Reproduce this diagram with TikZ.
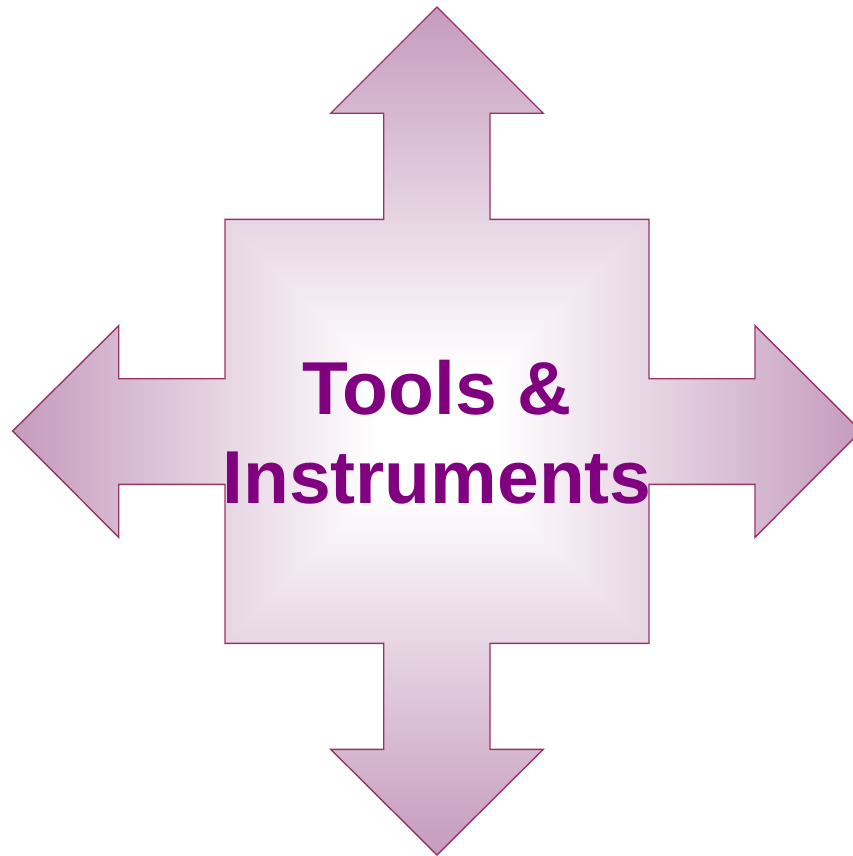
\documentclass[tikz,border=0pt]{standalone}
\usepackage{fontspec}
\setmainfont{Liberation Sans}
\definecolor{tipcol}{RGB}{197,155,189}
\definecolor{edgecol}{RGB}{153,51,102}
\definecolor{textcol}{RGB}{128,0,128}
\pgfdeclareverticalshading{armup}{100bp}{color(0bp)=(white); color(25bp)=(white); color(32bp)=(white); color(75bp)=(tipcol); color(100bp)=(tipcol)}
\pgfdeclareverticalshading{armdown}{100bp}{color(0bp)=(tipcol); color(25bp)=(tipcol); color(68bp)=(white); color(75bp)=(white); color(100bp)=(white)}
\pgfdeclarehorizontalshading{armleft}{100bp}{color(0bp)=(tipcol); color(25bp)=(tipcol); color(68bp)=(white); color(75bp)=(white); color(100bp)=(white)}
\pgfdeclarehorizontalshading{armright}{100bp}{color(0bp)=(white); color(25bp)=(white); color(32bp)=(white); color(75bp)=(tipcol); color(100bp)=(tipcol)}
\tikzset{
  labeltext/.style={text=textcol, align=center, inner sep=0pt,
    font=\fontsize{75}{89.5}\selectfont\bfseries},
  outline/.style={draw=edgecol, line width=1.4pt, line join=miter}
}
\def\quadpath{(437,7) -- (543.3,113.3) -- (490,113.3) -- (490,219.3) -- (649,219.3) -- (649,378.7) -- (755,378.7) -- (755,325.7) -- (861,431) -- (755,537.3) -- (755,484.3) -- (649,484.3) -- (649,643.3) -- (490,643.3) -- (490,749.3) -- (543.3,749.3) -- (437,855) -- (330.7,749.3) -- (383.7,749.3) -- (383.7,643.3) -- (225,643.3) -- (225,484.3) -- (118.7,484.3) -- (118.7,537.3) -- (12.7,431) -- (118.7,325.7) -- (118.7,378.7) -- (225,378.7) -- (225,219.3) -- (383.7,219.3) -- (383.7,113.3) -- (330.7,113.3) -- cycle}
\begin{document}
\begin{tikzpicture}[x=1pt,y=-1pt]
\useasboundingbox (0,0) rectangle (852,856);
\coordinate (c) at (437,431);
\begin{scope}
  \clip \quadpath;
  \shade[shading=armup] (c) -- (12,6.5) -- (862,6.5) -- cycle;
  \shade[shading=armdown] (c) -- (862,855.5) -- (12,855.5) -- cycle;
  \shade[shading=armleft] (c) -- (12.5,6) -- (12.5,856) -- cycle;
  \shade[shading=armright] (c) -- (861.5,6) -- (861.5,856) -- cycle;
\end{scope}
\draw[outline] \quadpath;
\node[labeltext, anchor=base] (label) at (437,503.5) {Tools \&\\Instruments};
\end{tikzpicture}
\end{document}
